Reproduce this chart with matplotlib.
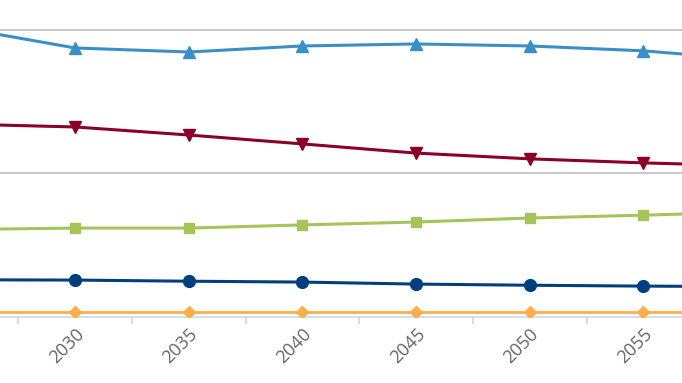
import numpy as np
import matplotlib.pyplot as plt

years = [2025, 2030, 2035, 2040, 2045, 2050, 2055, 2060]
tick_years = [2030, 2035, 2040, 2045, 2050, 2055]

s_up = [100.7, 93.7, 92.3, 94.4, 95.1, 94.4, 92.7, 89.5]
s_down = [67.2, 66.2, 63.4, 60.3, 57.1, 55.1, 53.7, 52.6]
s_square = [30.5, 31.0, 31.0, 32.1, 33.1, 34.5, 35.5, 36.6]
s_circle = [13.0, 12.9, 12.5, 12.2, 11.5, 11.1, 10.8, 10.6]
s_diamond = [1.7, 1.7, 1.7, 1.7, 1.7, 1.7, 1.7, 1.7]

fig = plt.figure(figsize=(6.82, 3.83), dpi=100)
ax = fig.add_axes([0, 0.172, 1, 0.828])

ax.plot(years, s_diamond, color='#fdae4b', lw=2.0, marker='D', ms=6.5, zorder=3)
ax.plot(years, s_circle, color='#003f7f', lw=2.2, marker='o', ms=8.5, zorder=3)
ax.plot(years, s_square, color='#a5c55a', lw=2.2, marker='s', ms=7.5, zorder=3)
ax.plot(years, s_down, color='#8b0029', lw=2.2, marker='v', ms=8.5, zorder=3)
ax.plot(years, s_up, color='#3a8fc7', lw=2.2, marker='^', ms=8.5, zorder=3)

ax.set_yticks([50, 100])
ax.yaxis.grid(True, color='#c4c4c4', lw=1.3)
ax.tick_params(axis='y', left=False, labelleft=False)

ax.set_xticks(tick_years)
ax.set_xticklabels([str(y) for y in tick_years], rotation=45, ha='right', va='top',
                   rotation_mode='anchor', color='#666666', fontsize=13,
                   family='Open Sans')
ax.set_xticks([y - 2.5 for y in tick_years], minor=True)
ax.tick_params(axis='x', which='major', length=0, pad=5.5)
ax.tick_params(axis='x', which='minor', length=5, color='#c9d8e8', width=1.2)

# limits after the ticks, set_xticks would widen them otherwise
ax.set_xlim(2026.7, 2056.7)
ax.set_ylim(0, 110.4)

for side in ['left', 'right', 'top']:
    ax.spines[side].set_visible(False)
ax.spines['bottom'].set_color('#c9d8e8')
ax.spines['bottom'].set_linewidth(1.2)
ax.set_axisbelow(True)

fig.savefig('out.png', dpi=100)
